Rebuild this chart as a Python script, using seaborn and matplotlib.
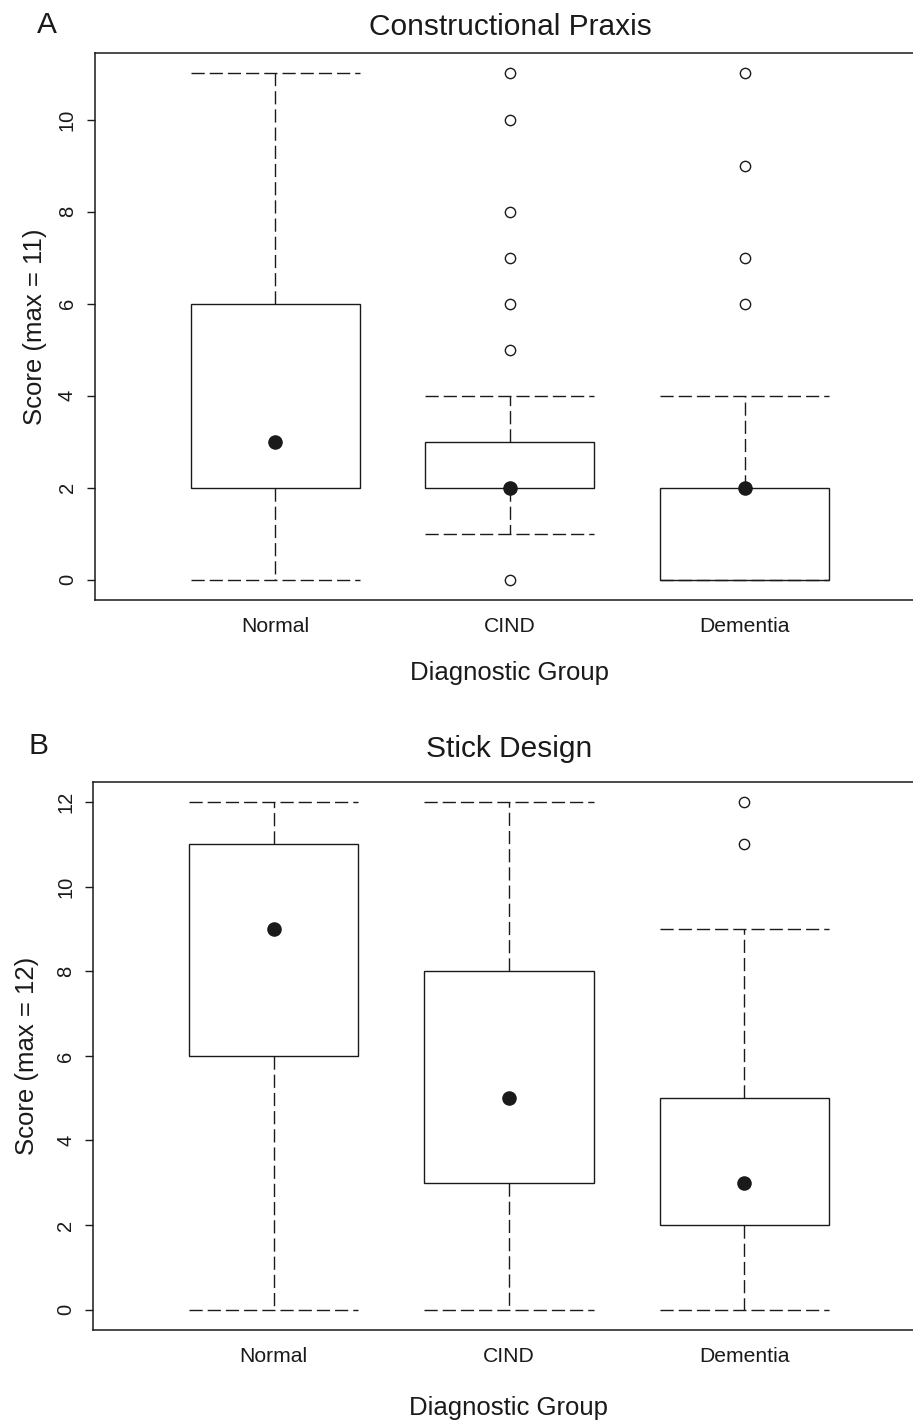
import numpy as np
import pandas as pd
import matplotlib
matplotlib.use("Agg")
import matplotlib.pyplot as plt
import seaborn as sns

groups = ["Normal", "CIND", "Dementia"]

# Panel A: Constructional Praxis (max = 11)
a_q1 = [2, 2, 0]
a_med = [3, 2, 2]
a_q3 = [6, 3, 2]
a_lo = [0, 1, 0]
a_hi = [11, 4, 4]
a_out = [[], [0, 5, 6, 7, 8, 10, 11], [6, 7, 9, 11]]
a_ticks = [0, 2, 4, 6, 8, 10]

# Panel B: Stick Design (max = 12)
b_q1 = [6, 3, 2]
b_med = [9, 5, 3]
b_q3 = [11, 8, 5]
b_lo = [0, 0, 0]
b_hi = [12, 12, 9]
b_out = [[], [], [11, 12]]
b_ticks = [0, 2, 4, 6, 8, 10, 12]

sns.set_theme(style="ticks")
plt.rcParams['font.family'] = ['Liberation Sans', 'DejaVu Sans']

ink = "#1a1a1a"
dash = (0, (9.5, 3.6))


def panel(ax, q1, med, q3, lo, hi, out, ticks, ymax, title, ylabel,
          title_pad, xlab_pad, ylab_pad):
    pos = np.arange(len(groups))
    stats = []
    for i in range(len(groups)):
        stats.append(dict(med=med[i], q1=q1[i], q3=q3[i], whislo=lo[i], whishi=hi[i], fliers=[]))
    ax.bxp(stats, positions=pos, widths=0.72, capwidths=0.72, patch_artist=True,
           showfliers=False, manage_ticks=False,
           boxprops=dict(facecolor="white", edgecolor=ink, linewidth=1.0),
           whiskerprops=dict(color=ink, linewidth=1.0, linestyle=dash),
           capprops=dict(color=ink, linewidth=1.0, linestyle=dash),
           medianprops=dict(linewidth=0))

    # medians as filled dots
    sns.scatterplot(x=pos, y=med, ax=ax, s=110, color=ink, edgecolor=ink,
                    linewidth=0, zorder=5, legend=False)

    # outliers as open circles
    ox, oy = [], []
    for i, vals in enumerate(out):
        for v in vals:
            ox.append(pos[i])
            oy.append(v)
    if ox:
        df = pd.DataFrame({"x": ox, "y": oy})
        sns.scatterplot(data=df, x="x", y="y", ax=ax, s=55, marker="o",
                        facecolor="white", edgecolor=ink, linewidth=1.0,
                        zorder=5, legend=False)

    ext = ymax * 0.04
    ax.set_ylim(-ext, ymax + ext)
    ax.set_xlim(-0.767, 2.767)
    ax.set_yticks(ticks)
    ax.set_yticklabels([str(t) for t in ticks], rotation=90, va="center", fontsize=14.5)
    ax.set_xticks(pos)
    ax.set_xticklabels(groups, fontsize=15.2)
    ax.tick_params(axis="x", length=0, pad=12, colors=ink)
    ax.tick_params(axis="y", length=6, width=1.0, pad=7, color=ink, labelcolor=ink)
    ax.set_xlabel("Diagnostic Group", fontsize=18.5, labelpad=xlab_pad, color=ink)
    ax.set_ylabel(ylabel, fontsize=18.5, labelpad=ylab_pad, color=ink)
    ax.set_title(title, fontsize=21.5, pad=title_pad, color=ink)
    for s in ax.spines.values():
        s.set_linewidth(1.1)
        s.set_color(ink)
    ax.grid(False)


fig = plt.figure(figsize=(9.13, 14.2), dpi=100)
ax1 = fig.add_axes([0.104, 0.5775, 0.909, 0.385])
ax2 = fig.add_axes([0.102, 0.0634, 0.911, 0.386])

panel(ax1, a_q1, a_med, a_q3, a_lo, a_hi, a_out, a_ticks, 11,
      "Constructional Praxis", "Score (max = 11)", 13, 18, 8)
panel(ax2, b_q1, b_med, b_q3, b_lo, b_hi, b_out, b_ticks, 12,
      "Stick Design", "Score (max = 12)", 18, 22, 12)

# panel letters
fig.text(37 / 913, 1 - 25 / 1420, "A", fontsize=21.5, color=ink, ha="left", va="center")
fig.text(28 / 913, 1 - 746 / 1420, "B", fontsize=21.5, color=ink, ha="left", va="center")

fig.savefig("out.png", dpi=100)
